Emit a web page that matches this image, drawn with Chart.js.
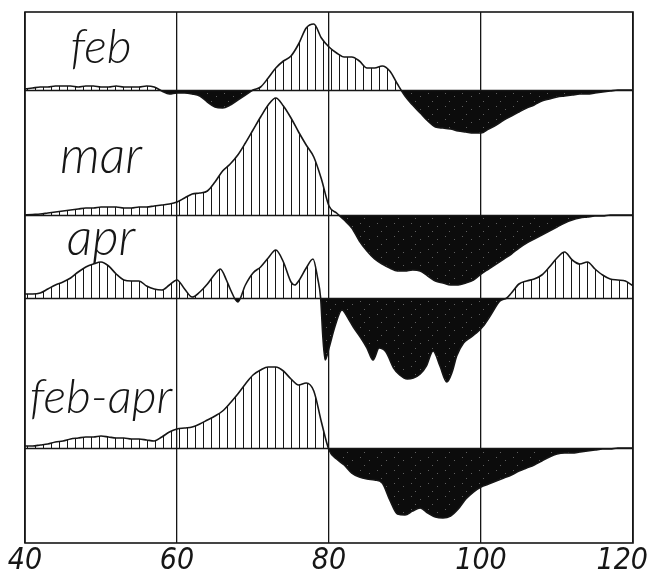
<!DOCTYPE html>
<html>
<head>
<meta charset="utf-8">
<script src="https://cdn.jsdelivr.net/npm/chart.js@4"></script>
<style>
  html, body { margin: 0; padding: 0; background: #fff; }
  #wrap { width: 650px; height: 571px; }
</style>
</head>
<body>
<div id="wrap"><canvas id="chart" width="650" height="571"></canvas></div>
<script>
// ---------- data ----------
const monthX = [
  40, 41, 42, 43, 44, 45, 46, 47, 48, 49,
  50, 51, 52, 53, 54, 55, 56, 57, 58, 59,
  60, 61, 62, 63, 64, 65, 66, 67, 68, 69,
  70, 71, 72, 73, 74, 75, 76, 77, 78, 79,
  80, 81, 82, 83, 84, 85, 86, 87, 88, 89,
  90, 91, 92, 93, 94, 95, 96, 97, 98, 99,
  100, 101, 102, 103, 104, 105, 106, 107, 108, 109,
  110, 111, 112, 113, 114, 115, 116, 117, 118, 119,
  120
];
const febValues = [
  0.1, 0.2, 0.3, 0.3, 0.4, 0.4, 0.4, 0.3, 0.4, 0.4,
  0.3, 0.3, 0.4, 0.3, 0.3, 0.3, 0.4, 0.3, -0.1, -0.4,
  -0.3, -0.3, -0.4, -0.6, -1.2, -1.7, -1.8, -1.5, -1.0, -0.5,
  0.0, 0.3, 1.2, 2.2, 2.9, 3.4, 4.6, 6.2, 6.6, 5.2,
  4.3, 3.7, 3.3, 3.3, 2.9, 2.2, 2.2, 2.4, 1.9, 0.6,
  -0.6, -1.5, -2.3, -3.1, -3.7, -3.8, -3.9, -4.1, -4.2, -4.3,
  -4.3, -3.9, -3.5, -3.0, -2.6, -2.2, -1.8, -1.5, -1.1, -0.9,
  -0.7, -0.6, -0.5, -0.4, -0.4, -0.3, -0.2, -0.1, 0.0, 0.0,
  0.0
];
const marValues = [
  0.0, 0.05, 0.1, 0.2, 0.3, 0.4, 0.5, 0.6, 0.7, 0.7,
  0.8, 0.8, 0.8, 0.7, 0.7, 0.8, 0.8, 0.9, 1.0, 1.1,
  1.3, 1.7, 2.1, 2.2, 2.4, 3.3, 4.4, 5.1, 6.0, 7.2,
  8.5, 9.8, 11.0, 11.7, 10.9, 9.7, 8.3, 7.0, 5.8, 3.6,
  0.9, 0.2, -0.5, -1.3, -2.6, -3.6, -4.4, -4.9, -5.3, -5.6,
  -5.6, -5.5, -5.6, -6.1, -6.6, -6.8, -7.0, -7.0, -6.8, -6.5,
  -5.9, -5.4, -4.9, -4.4, -3.9, -3.3, -2.8, -2.4, -2.0, -1.6,
  -1.2, -0.8, -0.5, -0.3, -0.2, -0.1, -0.1, 0.0, 0.0, 0.0,
  0.0
];
const aprX = [
  40, 41, 42, 43, 44, 45, 46, 47, 48, 49,
  50, 51, 52, 53, 54, 55, 56, 57, 58, 59,
  60, 61, 62, 63, 64, 65, 65.7, 66.5, 67, 68,
  69, 70, 71, 72, 73, 74, 75, 75.5, 76, 77,
  77.9, 78.5, 78.9, 79.2, 79.5, 80, 80.8, 81.7, 82.5, 83.2,
  84.2, 85, 85.8, 86.6, 87.5, 88.5, 89.3, 90.3, 91.1, 92,
  92.8, 93.7, 94.6, 95.5, 96.2, 96.8, 97.7, 98.5, 99.4, 100.3,
  101.2, 102.5, 103.4, 104, 105, 106, 107, 108, 109, 110,
  111, 112, 113, 114, 115, 116, 117, 118, 119, 120
];
const aprValues = [
  0.4, 0.4, 0.5, 0.9, 1.3, 1.6, 2.0, 2.6, 3.1, 3.4,
  3.6, 3.2, 2.4, 1.8, 1.7, 1.7, 1.2, 0.9, 0.8, 1.3,
  1.8, 0.9, 0.1, 0.6, 1.4, 2.4, 2.9, 1.8, 0.9, -0.4,
  1.3, 2.5, 3.1, 4.0, 4.8, 3.6, 1.6, 1.3, 1.7, 3.0,
  3.9, 2.0, 0.0, -4.0, -6.2, -5.0, -2.8, -1.2, -2.0, -2.9,
  -4.0, -5.0, -6.2, -5.0, -5.4, -7.0, -7.7, -8.1, -8.0, -7.6,
  -6.8, -5.3, -6.8, -8.4, -7.4, -5.8, -4.5, -4.0, -3.5, -2.8,
  -1.8, -0.3, 0.0, 0.5, 1.4, 1.7, 1.9, 2.3, 3.1, 4.0,
  4.6, 3.8, 3.4, 3.6, 2.9, 2.3, 1.9, 1.8, 1.7, 1.2
];
const febAprValues = [
  0.2, 0.2, 0.3, 0.4, 0.6, 0.7, 0.9, 1.0, 1.1, 1.1,
  1.2, 1.1, 1.0, 1.0, 0.9, 0.9, 0.8, 0.7, 1.1, 1.6,
  1.9, 2.0, 2.1, 2.4, 2.8, 3.2, 3.7, 4.5, 5.4, 6.4,
  7.3, 7.8, 8.1, 8.1, 7.7, 6.9, 6.3, 6.5, 5.7, 2.6,
  -0.2, -1.1, -1.7, -2.5, -2.9, -3.1, -3.2, -3.5, -5.2, -6.6,
  -6.7, -6.3, -6.0, -6.5, -6.9, -7.0, -6.8, -6.1, -5.1, -4.4,
  -3.9, -3.6, -3.3, -3.0, -2.7, -2.3, -2.0, -1.7, -1.3, -0.9,
  -0.6, -0.5, -0.5, -0.4, -0.3, -0.2, -0.1, -0.1, 0.0, 0.0,
  0.0
];
const panelNames = ["feb", "mar", "apr", "feb-apr"];
const xTicks = [40, 60, 80, 100, 120];

// ---------- layout ----------
// frame height in value units; each panel's baseline measured down from the top
const FRAME_SPAN = 53.1;
const baselineDepth = [7.8, 20.3, 28.6, 43.6];
const labelSpots = [
  { x: 50, y: 2.7, size: 48 },
  { x: 50, y: 4.2, size: 51 },
  { x: 50, y: 4.3, size: 51 },
  { x: 50, y: 3.5, size: 48 }
];
const INK = "#161616";

const ctx = document.getElementById("chart").getContext("2d");

// vertical hatching for the positive parts
function makeHatch() {
  const c = document.createElement("canvas");
  c.width = 8; c.height = 8;
  const g = c.getContext("2d");
  g.fillStyle = INK;
  g.fillRect(3, 0, 1, 8);
  return ctx.createPattern(c, "repeat");
}

// black with a few light specks for the negative parts
function makeSpeckle() {
  const c = document.createElement("canvas");
  c.width = 17; c.height = 13;
  const g = c.getContext("2d");
  g.fillStyle = "#0c0c0c";
  g.fillRect(0, 0, 17, 13);
  g.fillStyle = "rgba(255,255,255,0.35)";
  [[3, 2], [12, 5], [7, 10]].forEach(p => g.fillRect(p[0], p[1], 1, 1));
  return ctx.createPattern(c, "repeat");
}

const hatch = makeHatch();
const speckle = makeSpeckle();

function pairUp(xs, ys) {
  return xs.map((x, i) => ({ x: x, y: ys[i] }));
}

const seriesData = [
  pairUp(monthX, febValues),
  pairUp(monthX, marValues),
  pairUp(aprX, aprValues),
  pairUp(monthX, febAprValues)
];

const datasets = seriesData.map((pts, i) => ({
  label: panelNames[i],
  data: pts,
  yAxisID: "y" + i,
  borderColor: INK,
  borderWidth: 1.6,
  pointRadius: 0,
  cubicInterpolationMode: "monotone",
  fill: { target: "origin", above: hatch, below: speckle }
}));

const scales = {
  x: {
    type: "linear",
    min: 40,
    max: 120,
    afterBuildTicks: (scale) => { scale.ticks = xTicks.map(v => ({ value: v })); },
    ticks: { display: false },
    grid: { color: INK, lineWidth: 1.3, drawTicks: false },
    border: { display: false }
  }
};
baselineDepth.forEach((d, i) => {
  scales["y" + i] = { type: "linear", display: false, min: d - FRAME_SPAN, max: d };
});

// frame, panel baselines, panel names and x labels
const decorations = {
  id: "decorations",
  afterDatasetsDraw(chart) {
    const c = chart.ctx;
    const a = chart.chartArea;
    const xs = chart.scales.x;
    c.save();
    c.strokeStyle = INK;
    c.lineWidth = 1.6;
    c.strokeRect(a.left, a.top, a.right - a.left, a.bottom - a.top);
    baselineDepth.forEach((d, i) => {
      const y = Math.round(chart.scales["y" + i].getPixelForValue(0)) + 0.5;
      c.beginPath();
      c.moveTo(a.left, y);
      c.lineTo(a.right, y);
      c.stroke();
    });

    c.fillStyle = INK;
    c.textAlign = "center";
    c.textBaseline = "alphabetic";
    panelNames.forEach((name, i) => {
      const s = labelSpots[i];
      c.font = "italic 300 " + s.size + "px Lato, 'DejaVu Sans', sans-serif";
      c.fillText(name, xs.getPixelForValue(s.x), chart.scales["y" + i].getPixelForValue(s.y));
    });

    c.font = "italic 30px 'DejaVu Sans Condensed', 'Liberation Sans Narrow', sans-serif";
    xTicks.forEach(v => {
      const label = String(v);
      const w = c.measureText(label).width;
      let px = xs.getPixelForValue(v);
      px = Math.max(w / 2 + 4, Math.min(chart.width - w / 2 - 2, px));
      c.fillText(label, px, a.bottom + 26);
    });
    c.restore();
  }
};

new Chart(ctx, {
  type: "line",
  data: { datasets: datasets },
  options: {
    responsive: false,
    animation: false,
    layout: { padding: { left: 25, right: 17, top: 12, bottom: 28 } },
    plugins: { legend: { display: false }, tooltip: { enabled: false } },
    scales: scales
  },
  plugins: [decorations]
});
</script>
</body>
</html>
